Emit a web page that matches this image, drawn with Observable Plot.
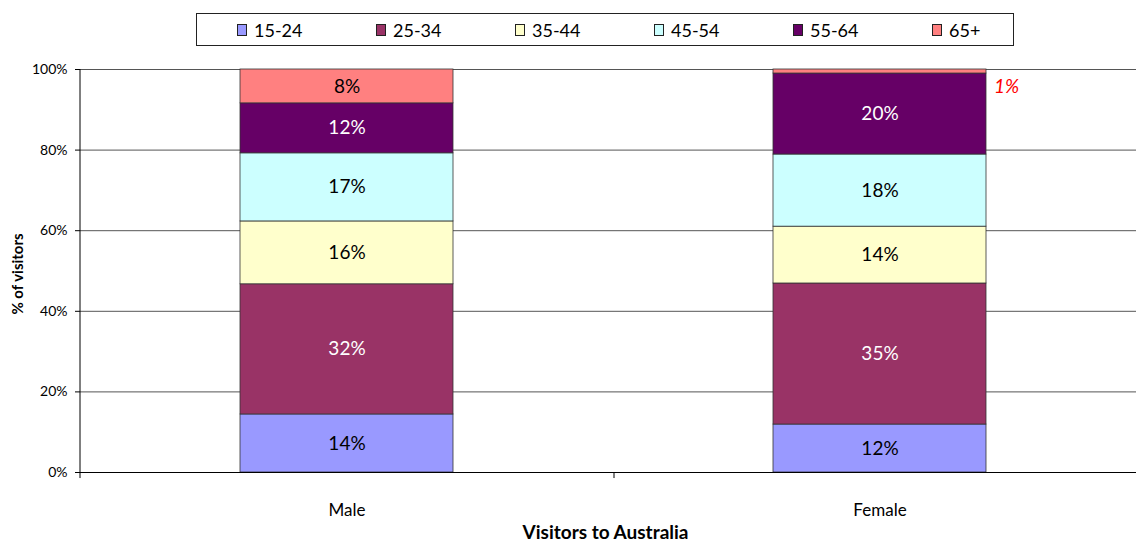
<!DOCTYPE html>
<html><head><meta charset="utf-8">
<script src="https://cdn.jsdelivr.net/npm/d3@7"></script>
<script src="https://cdn.jsdelivr.net/npm/@observablehq/plot@0.6"></script>
<style>
body{margin:0;width:1136px;height:546px;overflow:hidden;position:relative;background:#fff;font-family:Lato,sans-serif}
#chart{position:absolute;left:0;top:0;width:1146px}
#chart svg{max-width:none !important}
#legend{position:absolute;left:196px;top:13px;width:816px;height:31px;border:1px solid #222;box-sizing:content-box}
.item{position:absolute;top:0;height:31px;display:flex;align-items:center;font-size:18px;color:#000}
.sw{width:10px;height:12px;border:1px solid #222;margin-right:7px;box-sizing:border-box}
</style></head>
<body>
<div id="chart"></div>
<div id="legend"></div>
<script>
const sexes = ["Male", "Female"];
const ageGroups = ["15-24", "25-34", "35-44", "45-54", "55-64", "65+"];
const maleValues = [14.4, 32.3, 15.6, 16.9, 12.4, 8.4];
const femaleValues = [11.9, 35.0, 14.1, 17.9, 20.1, 1.0];
const yTicks = [0, 20, 40, 60, 80, 100];
const palette = ["#9999FF", "#993366", "#FFFFCC", "#CCFFFF", "#660066", "#FF8080"];
const darkGroups = ["25-34", "55-64"];

const seriesBySex = {Male: maleValues, Female: femaleValues};
const rows = sexes.flatMap(s => ageGroups.map((a, i) => ({sex: s, age: a, value: seriesBySex[s][i]})));
const fmt = v => Math.round(v) + "%";

const chart = Plot.plot({
  width: 1146,
  height: 546,
  marginLeft: 80,
  marginRight: 0,
  marginTop: 69,
  marginBottom: 74,
  style: {fontFamily: "Lato, sans-serif", background: "transparent", maxWidth: "none"},
  x: {domain: sexes, paddingInner: 0.6, paddingOuter: 0.3, label: null},
  y: {domain: [0, 100], label: null},
  color: {domain: ageGroups, range: palette},
  marks: [
    Plot.gridY(yTicks, {stroke: "#555", strokeOpacity: 1}),
    Plot.barY(rows, {x: "sex", y: "value", fill: "age", z: "age", stroke: "#333", strokeWidth: 0.8}),
    Plot.text(rows, Plot.stackY({
      x: "sex", y: "value", z: "age",
      text: d => d.value < 3 ? null : fmt(d.value),
      fill: d => darkGroups.includes(d.age) ? "white" : "black",
      fontSize: 19
    })),
    Plot.text(rows, Plot.stackY({
      x: "sex", y: "value", z: "age",
      text: d => d.value < 3 ? fmt(d.value) : null,
      fill: "#FF0000", fontStyle: "italic", fontSize: 19,
      textAnchor: "start", dx: 114, dy: 15
    })),
    Plot.ruleY([0], {stroke: "#000", strokeWidth: 1.2}),
    Plot.ruleX([sexes[0]], {dx: -267, y1: -1.5, y2: 100, stroke: "#000"}),
    Plot.ruleX([sexes[0]], {dx: 267, y1: -1.5, y2: 0, stroke: "#000"}),
    Plot.axisY(yTicks, {tickFormat: d => d + "%", tickSize: 5, tickPadding: 8, fontSize: 14, label: null, stroke: "#000"}),
    Plot.axisX({tickSize: 0, tickPadding: 31, fontSize: 17, label: null}),
    Plot.text(["Visitors to Australia"], {frameAnchor: "bottom", textAnchor: "middle", lineAnchor: "middle", dx: -8, dy: 60, fontWeight: "bold", fontSize: 19, letterSpacing: 0.4}),
    Plot.text(["% of visitors"], {frameAnchor: "left", textAnchor: "middle", dx: -62, dy: 3, rotate: -90, fontWeight: "bold", fontSize: 15, letterSpacing: 0.4})
  ]
});
document.getElementById("chart").appendChild(chart);

const legend = document.getElementById("legend");
ageGroups.forEach((a, i) => {
  const it = document.createElement("div");
  it.className = "item";
  it.style.left = (40 + i * 139) + "px";
  const sw = document.createElement("div");
  sw.className = "sw";
  sw.style.background = palette[i];
  it.appendChild(sw);
  it.appendChild(document.createTextNode(a));
  legend.appendChild(it);
});
</script>
</body></html>
